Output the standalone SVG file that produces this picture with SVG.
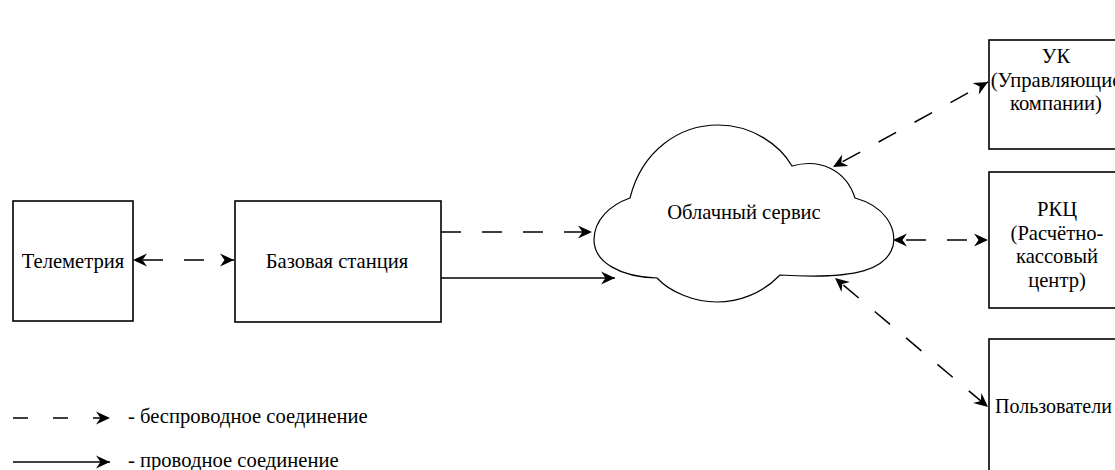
<svg xmlns="http://www.w3.org/2000/svg" width="1115" height="470" viewBox="0 0 1115 470">
  <style>
    .box { fill: #ffffff; stroke: #000000; stroke-width: 1.6; }
    .cloud { fill: #ffffff; stroke: #000000; stroke-width: 1.2; }
    .lbl { font-family: "Liberation Serif", "Times New Roman", serif; font-size: 20.6px; fill: #000000; }
    .mid { text-anchor: middle; }
    .wire { fill: none; stroke: #000000; stroke-width: 1.5; }
    .wless { fill: none; stroke: #000000; stroke-width: 1.5; stroke-dasharray: 20 21; }
  </style>
  <defs>
    <marker id="arrow" viewBox="-14 -7 15 14" refX="0" refY="0" markerUnits="userSpaceOnUse" markerWidth="15" markerHeight="14" orient="auto-start-reverse">
      <path d="M0,0 L-14,-6.5 L-9.5,0 L-14,6.5 Z" fill="#000000"/>
    </marker>
  </defs>

  <!-- connectors -->
  <g id="connectors">
    <path class="wless" d="M133,260 L234,260" stroke-dashoffset="31" marker-start="url(#arrow)" marker-end="url(#arrow)"/>
    <path class="wless" d="M441,232 L592,232" marker-end="url(#arrow)"/>
    <path class="wire" d="M441,278 L615,278" marker-end="url(#arrow)"/>
    <path class="wless" d="M833,167 L988,82" stroke-dashoffset="30" marker-start="url(#arrow)" marker-end="url(#arrow)"/>
    <path class="wless" d="M893,240 L988,240" stroke-dashoffset="28" marker-start="url(#arrow)" marker-end="url(#arrow)"/>
    <path class="wless" d="M835,278 L988,407" stroke-dashoffset="30" marker-start="url(#arrow)" marker-end="url(#arrow)"/>
  </g>

  <!-- telemetry -->
  <g id="telemetry">
    <rect class="box" x="13" y="201" width="120" height="120"/>
    <text class="lbl mid" x="73" y="268">Телеметрия</text>
  </g>

  <!-- base station -->
  <g id="base-station">
    <rect class="box" x="235" y="201" width="206" height="121"/>
    <text class="lbl mid" x="337" y="268">Базовая станция</text>
  </g>

  <!-- cloud service -->
  <g id="cloud-service">
    <path class="cloud" d="M630,198
      C642,150 680,125 718,125
      C752,125 780,145 792,166
      C820,158 846,170 855,198
      C885,206 897,228 893,246
      C887,268 860,280 780,275
      C762,294 738,302 717,302
      C694,302 670,292 657,278
      C620,277 594,262 594,240
      C594,220 610,205 630,198 Z"/>
    <text class="lbl mid" x="744" y="219">Облачный сервис</text>
  </g>

  <!-- management companies -->
  <g id="uk">
    <rect class="box" x="989" y="40" width="140" height="109"/>
    <text class="lbl mid" x="1056" y="63">УК</text>
    <text class="lbl mid" x="1056" y="87">(Управляющие</text>
    <text class="lbl mid" x="1056" y="110">компании)</text>
  </g>

  <!-- settlement and cash centre -->
  <g id="rkc">
    <rect class="box" x="989" y="172" width="140" height="136"/>
    <text class="lbl mid" x="1057" y="216">РКЦ</text>
    <text class="lbl mid" x="1057" y="240">(Расчётно-</text>
    <text class="lbl mid" x="1057" y="263">кассовый</text>
    <text class="lbl mid" x="1057" y="287">центр)</text>
  </g>

  <!-- users -->
  <g id="users">
    <rect class="box" x="989" y="339" width="140" height="150"/>
    <text class="lbl" x="995" y="413" style="font-size: 20px">Пользователи</text>
  </g>

  <!-- legend -->
  <g id="legend">
    <path class="wless" d="M13,418 L110,418" style="stroke-dasharray: 15 25" marker-end="url(#arrow)"/>
    <text class="lbl" x="128" y="423">- беспроводное соединение</text>
    <path class="wire" d="M13,462 L110,462" marker-end="url(#arrow)"/>
    <text class="lbl" x="128" y="467">- проводное соединение</text>
  </g>
</svg>
